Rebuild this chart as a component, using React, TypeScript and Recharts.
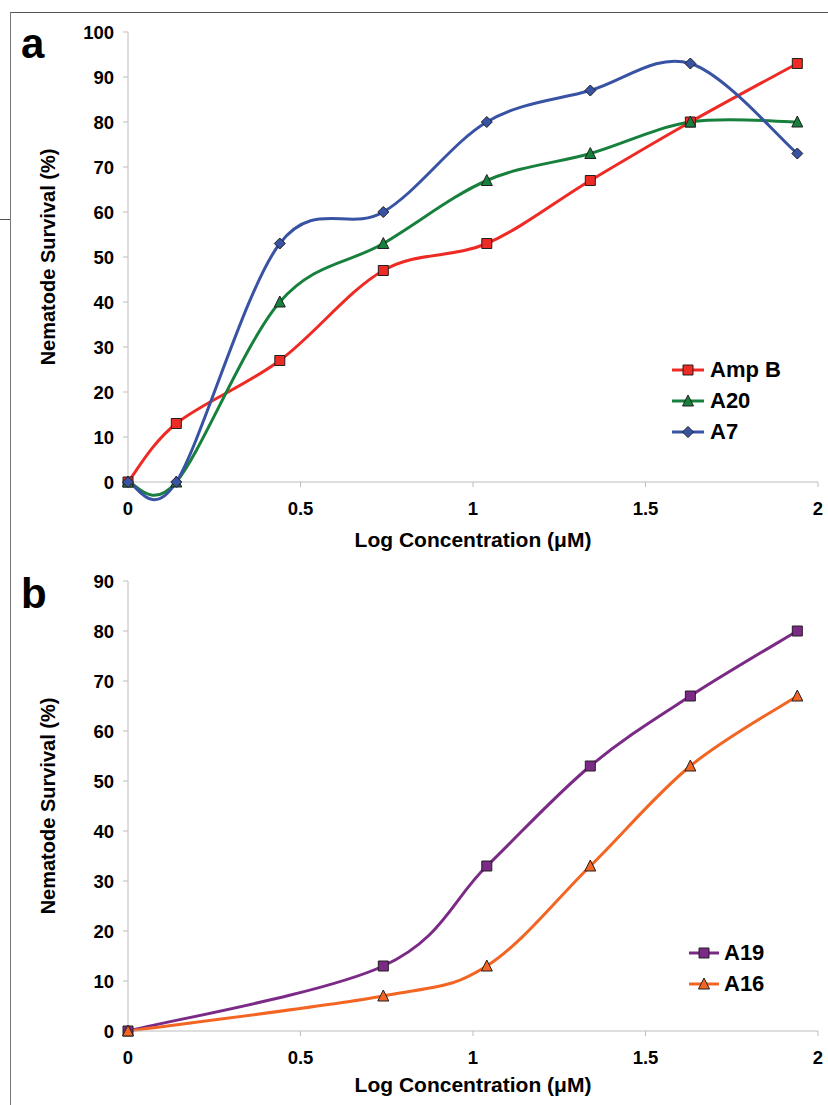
import React from 'react';
import { LineChart, Line, XAxis, YAxis, Label } from 'recharts';

// x positions (log concentration, µM)
const xTop = [0, 0.14, 0.44, 0.74, 1.04, 1.34, 1.63, 1.94];
const ampB = [0, 13, 27, 47, 53, 67, 80, 93];
const a20 = [0, 0, 40, 53, 67, 73, 80, 80];
const a7 = [0, 0, 53, 60, 80, 87, 93, 73];

const xBottom = [0, 0.74, 1.04, 1.34, 1.63, 1.94];
const a19 = [0, 13, 33, 53, 67, 80];
const a16 = [0, 7, 13, 33, 53, 67];

const xTicks = [0, 0.5, 1, 1.5, 2];
const yTicksTop = [0, 10, 20, 30, 40, 50, 60, 70, 80, 90, 100];
const yTicksBottom = [0, 10, 20, 30, 40, 50, 60, 70, 80, 90];

const FONT = '"Liberation Sans", Arial, Helvetica, sans-serif';
const AXIS = '#bdbdbd';

type Shape = 'square' | 'triangle' | 'diamond';
interface SeriesDef { key: string; name: string; color: string; shape: Shape }

const topSeries: SeriesDef[] = [
  { key: 'ampB', name: 'Amp B', color: '#ee2a24', shape: 'square' },
  { key: 'a20', name: 'A20', color: '#17803d', shape: 'triangle' },
  { key: 'a7', name: 'A7', color: '#3953a4', shape: 'diamond' },
];
const bottomSeries: SeriesDef[] = [
  { key: 'a19', name: 'A19', color: '#7b2a86', shape: 'square' },
  { key: 'a16', name: 'A16', color: '#f26522', shape: 'triangle' },
];

const topData = xTop.map((x, i) => ({ x, ampB: ampB[i], a20: a20[i], a7: a7[i] }));
const bottomData = xBottom.map((x, i) => ({ x, a19: a19[i], a16: a16[i] }));

// Excel-like smoothed line (Catmull-Rom through the points)
function excelCurve(context: any) {
  let pts: [number, number][] = [];
  return {
    areaStart() {},
    areaEnd() {},
    lineStart() { pts = []; },
    point(x: number, y: number) { pts.push([+x, +y]); },
    lineEnd() {
      if (!pts.length) return;
      context.moveTo(pts[0][0], pts[0][1]);
      for (let i = 0; i < pts.length - 1; i++) {
        const p0 = pts[i - 1] || pts[i];
        const p1 = pts[i];
        const p2 = pts[i + 1];
        const p3 = pts[i + 2] || pts[i + 1];
        context.bezierCurveTo(
          p1[0] + (p2[0] - p0[0]) / 6, p1[1] + (p2[1] - p0[1]) / 6,
          p2[0] - (p3[0] - p1[0]) / 6, p2[1] - (p3[1] - p1[1]) / 6,
          p2[0], p2[1],
        );
      }
    },
  };
}

function markerPath(shape: Shape, cx: number, cy: number, s: number) {
  if (shape === 'square') return `M${cx - s},${cy - s}h${2 * s}v${2 * s}h${-2 * s}Z`;
  if (shape === 'triangle') return `M${cx},${cy - s - 1}L${cx + s + 0.5},${cy + s}L${cx - s - 0.5},${cy + s}Z`;
  return `M${cx},${cy - s - 0.5}L${cx + s + 0.5},${cy}L${cx},${cy + s + 0.5}L${cx - s - 0.5},${cy}Z`;
}

const makeDot = (s: SeriesDef) => (p: any) => (
  <path
    key={`${s.key}-${p.index}`}
    d={markerPath(s.shape, p.cx, p.cy, 5)}
    fill={s.color}
    stroke="#231f20"
    strokeWidth={1}
  />
);

function LegendBox({ series, lineW, gap, left, top }: { series: SeriesDef[]; lineW: number; gap: number; left: number; top: number }) {
  return (
    <div style={{ position: 'absolute', left, top, fontFamily: FONT, fontWeight: 'bold', fontSize: 22, color: '#000' }}>
      {series.map((s) => (
        <div key={s.key} style={{ display: 'flex', alignItems: 'center', height: 31 }}>
          <svg width={lineW} height={14} style={{ marginRight: gap }}>
            <line x1={0} y1={7} x2={lineW} y2={7} stroke={s.color} strokeWidth={3} />
            <path d={markerPath(s.shape, lineW / 2, 7, 5)} fill={s.color} stroke="#231f20" strokeWidth={1} />
          </svg>
          <span>{s.name}</span>
        </div>
      ))}
    </div>
  );
}

const tickStyle = { fontFamily: FONT, fontWeight: 'bold' as const, fontSize: 18.5, fill: '#000' };

function YTitle(props: any) {
  const vb = props.viewBox || {};
  const cy = vb.y + vb.height / 2;
  return (
    <text
      x={48}
      y={cy}
      transform={`rotate(-90 48 ${cy})`}
      textAnchor="middle"
      dominantBaseline="central"
      style={{ fontFamily: FONT, fontWeight: 'bold', fontSize: 20, fill: '#000' }}
    >
      Nematode Survival (%)
    </text>
  );
}

function Panel({ data, series, yMax, yTicks, top, height, mTop, xAxisH, legendPos, lineW, gap }: any) {
  return (
    <div style={{ position: 'absolute', left: 0, top, width: 828, height }}>
      <LineChart width={828} height={height} data={data} margin={{ top: mTop, right: 10, left: 30, bottom: 8 }}>
        <XAxis
          dataKey="x"
          type="number"
          domain={[0, 2]}
          ticks={xTicks}
          height={xAxisH}
          stroke={AXIS}
          tickSize={5}
          tickMargin={15}
          tick={tickStyle}
          interval={0}
        >
          <Label
            value="Log Concentration (μM)"
            position="insideBottom"
            offset={5}
            style={{ fontFamily: FONT, fontWeight: 'bold', fontSize: 21, fill: '#000' }}
          />
        </XAxis>
        <YAxis
          type="number"
          domain={[0, yMax]}
          ticks={yTicks}
          width={98}
          stroke={AXIS}
          tickSize={5}
          tickMargin={9}
          tick={tickStyle}
          interval={0}
        >
          <Label content={<YTitle />} />
        </YAxis>
        {series.map((s: SeriesDef) => (
          <Line
            key={s.key}
            dataKey={s.key}
            name={s.name}
            type={excelCurve as any}
            stroke={s.color}
            strokeWidth={3}
            dot={makeDot(s)}
            activeDot={false}
            isAnimationActive={false}
          />
        ))}
      </LineChart>
      <LegendBox series={series} lineW={lineW} gap={gap} left={legendPos[0]} top={legendPos[1]} />
    </div>
  );
}

export default function App() {
  return (
    <div style={{ position: 'absolute', left: 0, top: 0, width: 828, height: 1105, background: '#fff', overflow: 'hidden' }}>
      <div style={{ position: 'absolute', left: 10, top: 12, width: 818, height: 1, background: '#555' }} />
      <div style={{ position: 'absolute', left: 10, top: 12, width: 1, height: 1093, background: '#777' }} />
      <div style={{ position: 'absolute', left: 0, top: 219, width: 10, height: 1, background: '#555' }} />
      <Panel
        data={topData}
        series={topSeries}
        yMax={100}
        yTicks={yTicksTop}
        top={0}
        height={560}
        mTop={32}
        xAxisH={70}
        legendPos={[672, 354]}
        lineW={32}
        gap={6}
      />
      <Panel
        data={bottomData}
        series={bottomSeries}
        yMax={90}
        yTicks={yTicksBottom}
        top={545}
        height={560}
        mTop={36}
        xAxisH={66}
        legendPos={[689, 392]}
        lineW={30}
        gap={5}
      />
      <div style={{ position: 'absolute', left: 21, top: 22, fontFamily: FONT, fontWeight: 'bold', fontSize: 42, lineHeight: '44px' }}>a</div>
      <div style={{ position: 'absolute', left: 21, top: 572, fontFamily: FONT, fontWeight: 'bold', fontSize: 42, lineHeight: '44px' }}>b</div>
    </div>
  );
}
